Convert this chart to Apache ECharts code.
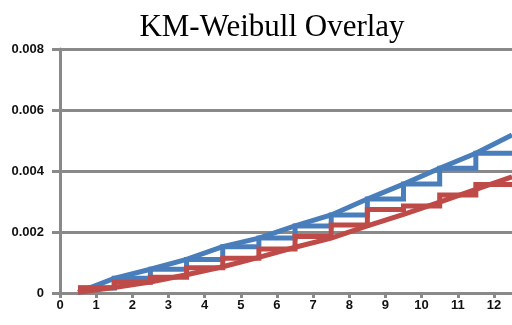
<!DOCTYPE html>
<html>
<head>
<meta charset="utf-8">
<script src="https://cdn.jsdelivr.net/npm/echarts@6/dist/echarts.min.js"></script>
<style>
  html, body { margin: 0; padding: 0; background: #fff; }
  #chart { width: 512px; height: 325px; }
</style>
</head>
<body>
<div id="chart"></div>
<script>
// Kaplan-Meier step estimates and fitted Weibull curves for two groups
const stepTimes = [0.5, 1.5, 2.5, 3.5, 4.5, 5.5, 6.5, 7.5, 8.5, 9.5, 10.5, 11.5];
const endTime = 12.5;
const blueKM = [0.00016, 0.00048, 0.00078, 0.0011, 0.00152, 0.0018, 0.0022, 0.00256, 0.00308, 0.00357, 0.00409, 0.00458];
const redKM  = [0.00017, 0.00035, 0.00052, 0.00083, 0.00114, 0.00144, 0.00185, 0.00223, 0.00274, 0.00285, 0.00321, 0.00356];

const curveTimes = [0.5, 1.5, 2.5, 3.5, 4.5, 5.5, 6.5, 7.5, 8.5, 9.5, 10.5, 11.5, 12.5];
const blueWeibull = [0.00002, 0.00048, 0.00078, 0.0011, 0.00152, 0.0018, 0.0022, 0.00256, 0.00308, 0.00357, 0.00409, 0.00458, 0.00518];
const redWeibull  = [0.00002, 0.00018, 0.00036, 0.0006, 0.00086, 0.00117, 0.0015, 0.0018, 0.0022, 0.00258, 0.00298, 0.0034, 0.00381];

// axis range: time runs past the last labelled tick (12) to the right edge
const xTicks = { min: 0, max: 12.5, interval: 1 };
const yTicks = { min: 0, max: 0.008, interval: 0.002 };

const BLUE = '#4A7EBB';
const RED = '#BE4B48';
const GRID_GRAY = '#898989';

function stepData(times, levels) {
  const pts = times.map((t, i) => [t, levels[i]]);
  pts.push([endTime, levels[levels.length - 1]]);
  return pts;
}
function curveData(times, vals) {
  return times.map((t, i) => [t, vals[i]]);
}

function lineSeries(data, color, step) {
  return {
    type: 'line',
    data: data,
    step: step || false,
    showSymbol: false,
    symbol: 'none',
    silent: true,
    animation: false,
    lineStyle: { color: color, width: 5, join: 'miter', cap: 'butt' }
  };
}

const chart = echarts.init(document.getElementById('chart'), null, { renderer: 'canvas' });
chart.setOption({
  animation: false,
  backgroundColor: '#ffffff',
  title: {
    text: 'KM-Weibull Overlay',
    left: 267,
    textAlign: 'center',
    top: 7,
    textStyle: {
      fontFamily: 'Liberation Serif',
      fontSize: 31,
      fontWeight: 'normal',
      color: '#000000'
    }
  },
  grid: { left: 60, top: 49, right: 0, bottom: 32, containLabel: false },
  xAxis: {
    type: 'value',
    min: xTicks.min, max: xTicks.max, interval: xTicks.interval,
    axisLine: { show: true, onZero: false, lineStyle: { color: GRID_GRAY, width: 3 } },
    axisTick: { show: true, length: 5, lineStyle: { color: GRID_GRAY, width: 3 } },
    splitLine: { show: false },
    axisLabel: {
      margin: 6,
      color: '#111111',
      fontFamily: 'Liberation Sans',
      fontWeight: 'bold',
      fontSize: 13,
      showMaxLabel: false,
      formatter: function (v) { return Number.isInteger(v) ? String(v) : ''; }
    }
  },
  yAxis: {
    type: 'value',
    min: yTicks.min, max: yTicks.max, interval: yTicks.interval,
    axisLine: { show: true, lineStyle: { color: GRID_GRAY, width: 3 } },
    axisTick: { show: true, length: 8, lineStyle: { color: GRID_GRAY, width: 3 } },
    splitLine: { show: true, lineStyle: { color: GRID_GRAY, width: 3 } },
    axisLabel: {
      margin: 16,
      color: '#111111',
      fontFamily: 'Liberation Sans',
      fontWeight: 'bold',
      fontSize: 13
    }
  },
  series: [
    lineSeries(curveData(curveTimes, blueWeibull), BLUE),
    lineSeries(stepData(stepTimes, blueKM), BLUE, 'end'),
    lineSeries(curveData(curveTimes, redWeibull), RED),
    lineSeries(stepData(stepTimes, redKM), RED, 'end')
  ]
});
</script>
</body>
</html>
